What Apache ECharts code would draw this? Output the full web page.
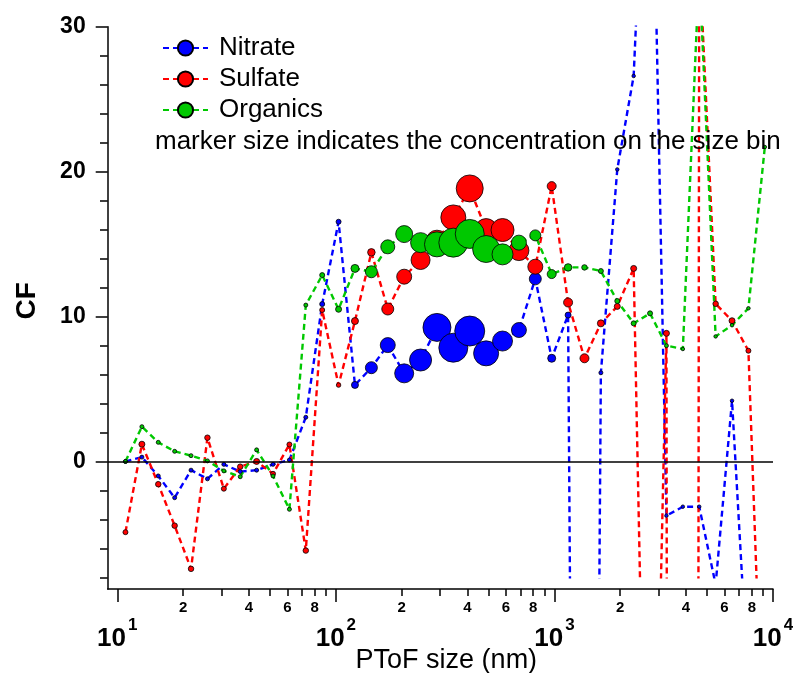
<!DOCTYPE html>
<html><head><meta charset="utf-8">
<script src="https://cdn.jsdelivr.net/npm/echarts@6/dist/echarts.min.js"></script>
<style>html,body{margin:0;padding:0;background:#fff}#c{width:793px;height:673px}</style>
</head><body><div id="c"></div>
<script>
// ---- data (PToF size bins, nm) ----
const sizeNm = [10.9, 12.96, 15.4, 18.3, 21.75, 25.85, 30.73, 36.52, 43.4, 51.58,
  61.31, 72.86, 86.6, 102.9, 122.3, 145.4, 172.8, 205.4, 244.1, 290.1,
  344.7, 409.7, 486.9, 578.8, 687.9, 817.6, 971.6, 1154.8, 1372.5, 1631.2,
  1938.8, 2304.2, 2738.4, 3254.6, 3868.2, 4597.4, 5464.2, 6494.3, 7718.8, 9173.9];

const nitrateCF = [0.0, 0.3, -1.0, -2.5, -0.6, -1.2, -0.2, -0.7, -0.6, -0.2,
  0.1, 3.05, 10.86, 16.54, 5.28, 6.47, 8.03, 6.08, 7.0, 9.25,
  7.85, 9.0, 7.46, 8.31, 9.07, 12.6, 7.12, 10.1, -150, 6.12,
  20.15, 26.6, 52, -3.74, -3.12, -3.12, -8.5, 4.19, -15.7, '-'];

const sulfateCF = [-4.88, 1.19, -1.57, -4.43, -7.41, 1.64, -1.88, -0.36, 0.0, -0.85,
  1.17, -6.15, 10.45, 5.27, 9.69, 14.43, 10.52, 12.75, 13.9, 15.2,
  16.84, 18.84, 16.0, 15.97, 14.55, 13.44, 19.0, 10.97, 7.12, 9.53,
  10.7, 13.32, -42, 8.84, -850, 35, 10.88, 9.71, 7.64, -24];

const organicsCF = [0.0, 2.4, 1.32, 0.7, 0.4, 0.04, -0.65, -1.05, 0.8, -1.0,
  -3.3, 10.79, 12.86, 10.5, 13.32, 13.09, 14.81, 15.69, 15.1, 14.98,
  15.1, 15.7, 14.66, 14.29, 15.1, 15.6, 12.93, 13.39, 13.39, 13.14,
  11.07, 9.53, 10.22, 7.99, 7.76, 34, 8.63, 9.4, 10.57, 21.7];

// relative concentration in each size bin (drives marker size)
const nitrateConc = [1, 1, 1, 1, 1, 1, 1, 1, 1, 1,
  1, 1, 2, 2, 4, 9, 12, 16, 19, 25,
  26, 27, 22, 17, 12, 9, 5, 3, 1, 1,
  0.5, 0.5, 0.5, 0.5, 0.5, 0.5, 0.5, 0.5, 0.5, 0.5];
const sulfateConc = [2, 3, 2.5, 2.5, 2.5, 2.5, 2, 2.5, 3, 2,
  2, 2.5, 2, 1.5, 4, 4.5, 9, 12, 16, 19,
  22, 24, 19, 20, 17, 12, 6, 6, 6, 4,
  3, 3, 2, 3, 2, 1, 2.5, 3, 2, 2];
const organicsConc = [1, 1, 1, 1, 1, 1, 1, 1, 1, 1,
  1, 1, 2, 3, 5, 9, 11, 14, 17, 22,
  26, 26, 24, 18, 12, 8, 6, 4.5, 2.5, 2,
  2, 2, 2, 1, 0.5, 0.5, 0.5, 0.5, 0.5, 0.5];

const seriesNames = ['Nitrate', 'Sulfate', 'Organics'];
const noteText = 'marker size indicates the concentration on the size bin';

// axis ticks / labels
const yMajorTicks = [0, 10, 20, 30];
const yMinorTicks = [-8, -6, -4, -2, 0, 2, 4, 6, 8, 10, 12, 14, 16, 18, 20, 22, 24, 26, 28, 30];
const xDecades = [10, 100, 1000, 10000];
const xMinorTicks = [20, 30, 40, 50, 60, 70, 80, 90, 200, 300, 400, 500, 600, 700, 800, 900,
  2000, 3000, 4000, 5000, 6000, 7000, 8000, 9000];
const xMinorLabels = [20, 40, 60, 80, 200, 400, 600, 800, 2000, 4000, 6000, 8000];

// ---- chart ----
const FONT = 'Liberation Sans';
const lg = Math.log10;
const X_MIN = lg(9.04), X_MAX = 4;
const Y_MIN_DATA = -8, Y_MIN_AXIS = -8.8, Y_MAX = 30;

function pts(cf, conc) {
  return sizeNm.map((s, i) => [lg(s), cf[i], conc[i]]);
}
function mkSeries(name, color, cf, conc, extra) {
  return Object.assign({
    name: name, type: 'line', xAxisIndex: 0, yAxisIndex: 0,
    data: pts(cf, conc),
    symbol: 'circle', showSymbol: true, showAllSymbol: true,
    symbolSize: v => 3 + v[2],
    lineStyle: { color: color, width: 2.4, type: [6, 4] },
    itemStyle: { color: color, borderColor: '#000', borderWidth: 0.8 },
    clip: true, connectNulls: false,
    emphasis: { disabled: true }
  }, extra || {});
}

const chart = echarts.init(document.getElementById('c'), null, { renderer: 'canvas' });
const axisLineStyle = { color: '#000', width: 1.5 };

chart.setOption({
  animation: false,
  backgroundColor: '#fff',
  title: {
    text: noteText, left: 155, top: 129, padding: 0,
    textStyle: { fontFamily: FONT, fontSize: 26, fontWeight: 'normal', color: '#000' }
  },
  legend: {
    data: seriesNames, orient: 'vertical', left: 157, top: 30,
    itemWidth: 45, itemHeight: 19, itemGap: 5, selectedMode: false,
    textStyle: { fontFamily: FONT, fontSize: 26, color: '#000', padding: [0, 0, 0, 6] }
  },
  grid: [
    { left: 107.7, right: 20, top: 26.7, bottom: 95.6, outerBoundsMode: 'none' },
    { left: 107.7, right: 20, top: 26.7, bottom: 84, outerBoundsMode: 'none' }
  ],
  xAxis: [
    { gridIndex: 0, type: 'value', min: X_MIN, max: X_MAX, show: false },
    {
      gridIndex: 1, type: 'value', min: X_MIN, max: X_MAX, position: 'bottom',
      axisLine: { show: true, onZero: false, lineStyle: axisLineStyle },
      axisTick: { show: true, customValues: xDecades.map(lg), length: 13, inside: false, lineStyle: axisLineStyle },
      axisLabel: {
        show: true, customValues: xDecades.map(lg), margin: 28,
        formatter: v => '{b|10}{s|' + Math.round(v) + '}',
        rich: {
          b: { fontFamily: FONT, fontSize: 26, fontWeight: 'bold', color: '#000', lineHeight: 44 },
          s: { fontFamily: FONT, fontSize: 17, fontWeight: 'bold', color: '#000', lineHeight: 17, verticalAlign: 'top', padding: [0, 0, 0, 2] }
        }
      },
      splitLine: { show: false },
      name: 'PToF size (nm)', nameLocation: 'middle', nameGap: 58, nameMoveOverlap: false,
      nameTextStyle: { fontFamily: FONT, fontSize: 27, color: '#000', padding: [0, 0, 0, 12] }
    },
    {
      gridIndex: 1, type: 'value', min: X_MIN, max: X_MAX, position: 'bottom',
      axisLine: { show: false, onZero: false },
      axisTick: { show: true, customValues: xMinorTicks.map(lg), length: 7, inside: false, lineStyle: axisLineStyle },
      axisLabel: {
        show: true, customValues: xMinorLabels.map(lg), margin: 11.5,
        fontFamily: FONT, fontSize: 15, fontWeight: 'bold', color: '#000',
        formatter: v => String(Math.round(Math.pow(10, v) / Math.pow(10, Math.floor(v + 1e-9))))
      },
      splitLine: { show: false }
    }
  ],
  yAxis: [
    { gridIndex: 0, type: 'value', min: Y_MIN_DATA, max: Y_MAX, show: false },
    {
      gridIndex: 1, type: 'value', min: Y_MIN_AXIS, max: Y_MAX, position: 'left',
      axisLine: { show: true, onZero: false, lineStyle: axisLineStyle },
      axisTick: { show: true, customValues: yMajorTicks, length: 12, inside: false, lineStyle: axisLineStyle },
      axisLabel: {
        show: true, customValues: yMajorTicks, margin: 22,
        fontFamily: FONT, fontSize: 23, fontWeight: 'bold', color: '#000'
      },
      splitLine: { show: false },
      name: 'CF', nameLocation: 'middle', nameGap: 66,
      nameTextStyle: { fontFamily: FONT, fontSize: 28, fontWeight: 'bold', color: '#000', padding: [0, 0, 0, 14] }
    },
    {
      gridIndex: 1, type: 'value', min: Y_MIN_AXIS, max: Y_MAX, position: 'left',
      axisLine: { show: false, onZero: false },
      axisTick: { show: true, customValues: yMinorTicks, length: 7.7, inside: false, lineStyle: axisLineStyle },
      axisLabel: { show: false },
      splitLine: { show: false }
    }
  ],
  series: [
    mkSeries(seriesNames[0], '#0000ff', nitrateCF, nitrateConc, {
      markLine: {
        silent: true, symbol: 'none', label: { show: false },
        lineStyle: { color: '#000', width: 1.5, type: 'solid' },
        emphasis: { disabled: true },
        data: [{ yAxis: 0 }]
      }
    }),
    mkSeries(seriesNames[1], '#ff0000', sulfateCF, sulfateConc),
    mkSeries(seriesNames[2], '#00c800', organicsCF, organicsConc)
  ]
});
</script>
</body></html>
